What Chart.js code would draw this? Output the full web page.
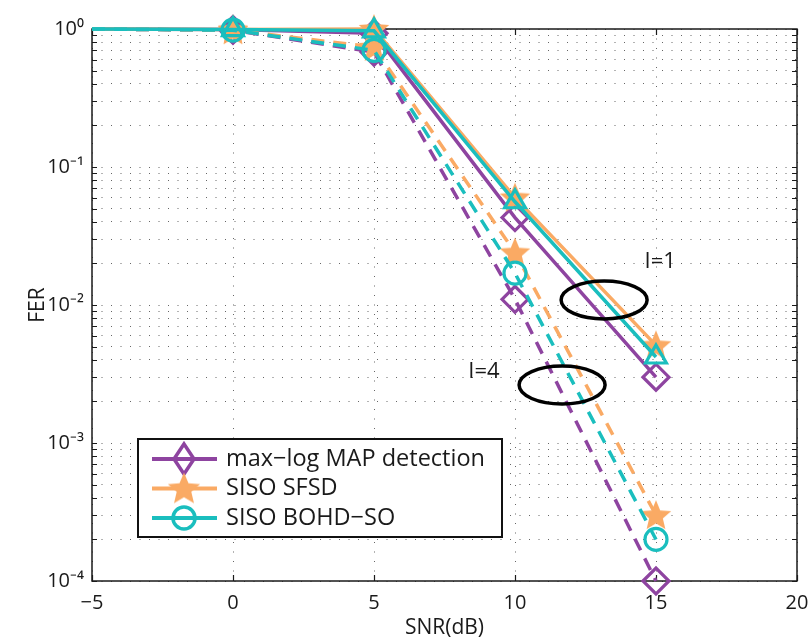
<!DOCTYPE html>
<html>
<head>
<meta charset="utf-8">
<script src="https://cdn.jsdelivr.net/npm/chart.js@4.4.1/dist/chart.umd.min.js"></script>
<style>
  html, body { margin: 0; padding: 0; background: #ffffff; }
  #wrap { width: 808px; height: 642px; }
</style>
</head>
<body>
<div id="wrap"><canvas id="fer" width="808" height="642"></canvas></div>
<script>
// SNR points (dB)
const snr = [-5, 0, 5, 10, 15];
const xTickValues = [-5, 0, 5, 10, 15, 20];
const yDecades = [1e-4, 1e-3, 1e-2, 1e-1, 1];

// Frame error rate, one iteration (I=1, solid)
const maxLogI1 = [1, 0.99, 0.93, 0.043, 0.0030];
const sfsdI1   = [1, 0.99, 1.0, 0.060, 0.0051];
const bohdI1   = [1, 0.99, 0.97, 0.056, 0.0042];
// Frame error rate, four iterations (I=4, dashed)
const maxLogI4 = [1, 0.98, 0.68, 0.011, 0.00010];
const sfsdI4   = [1, 0.98, 0.74, 0.024, 0.00030];
const bohdI4   = [1, 0.98, 0.70, 0.017, 0.00020];

const seriesNames = ['max\u2212log MAP detection', 'SISO SFSD', 'SISO BOHD\u2212SO'];
const iterLabels = [
  { text: 'I=1', x: 15.15, y: 0.0205 },
  { text: 'I=4', x: 8.9, y: 0.00327 }
];
const ellipseCenters = [
  { x: 13.16, y: 0.01087 },
  { x: 11.67, y: 0.00263 }
];

const PURPLE = 'rgb(142,68,160)';
const ORANGE = 'rgb(250,170,100)';
const TEAL = 'rgb(26,190,190)';
const FONT = '"Open Sans", "Liberation Sans", sans-serif';

function starImage(r, color) {
  const size = Math.ceil(2 * r + 2);
  const c = document.createElement('canvas');
  c.width = size; c.height = size;
  const g = c.getContext('2d');
  g.fillStyle = color;
  g.beginPath();
  for (let i = 0; i < 10; i++) {
    const rad = i % 2 ? r * 0.45 : r;
    const a = -Math.PI / 2 + i * Math.PI / 5;
    g.lineTo(size / 2 + rad * Math.cos(a), size / 2 + rad * Math.sin(a) + 1);
  }
  g.closePath();
  g.fill();
  return c;
}
const star = starImage(16, ORANGE);
const legendStar = starImage(17, ORANGE);

const sup = { '-': '\u207B', '0': '\u2070', '1': '\u00B9', '2': '\u00B2', '3': '\u00B3', '4': '\u2074' };
function powLabel(v) {
  const e = Math.round(Math.log10(v));
  return '10' + String(e).split('').map(ch => sup[ch]).join('');
}

function series(label, data, color, style, dashed, order, image) {
  const r = style === 'rectRot' ? 13 : style === 'triangle' ? 12 : 11;
  return {
    label, data, order,
    borderColor: color,
    borderWidth: 3.5,
    borderDash: dashed ? [13, 9] : [],
    pointStyle: image ? star : style,
    pointRadius: data.map((_, i) => (i === 0 ? 0 : r)),
    pointBorderColor: color,
    pointBackgroundColor: 'rgba(0,0,0,0)',
    pointBorderWidth: 3.2,
    tension: 0,
    clip: false
  };
}

// Box around the plot with inward tick marks on all four sides
const framePlugin = {
  id: 'frame',
  beforeDatasetsDraw(chart) {
    const { ctx, chartArea: a, scales: { x, y } } = chart;
    ctx.save();
    ctx.strokeStyle = '#1a1a1a';
    ctx.lineWidth = 1.5;
    ctx.strokeRect(a.left, a.top, a.right - a.left, a.bottom - a.top);
    ctx.lineWidth = 1.2;
    ctx.beginPath();
    x.ticks.forEach(t => {
      const px = Math.round(x.getPixelForValue(t.value)) + 0.5;
      ctx.moveTo(px, a.bottom); ctx.lineTo(px, a.bottom - 6);
      ctx.moveTo(px, a.top); ctx.lineTo(px, a.top + 6);
    });
    y.ticks.forEach(t => {
      const py = Math.round(y.getPixelForValue(t.value)) + 0.5;
      ctx.moveTo(a.left, py); ctx.lineTo(a.left + 5, py);
      ctx.moveTo(a.right, py); ctx.lineTo(a.right - 5, py);
    });
    ctx.stroke();
    ctx.restore();
  }
};

// Iteration groups: ellipses around the curve bundles and their labels
const groupPlugin = {
  id: 'groups',
  afterDatasetsDraw(chart) {
    const { ctx, scales: { x, y } } = chart;
    ctx.save();
    ctx.strokeStyle = '#000';
    ctx.lineWidth = 3.5;
    ellipseCenters.forEach(c => {
      ctx.beginPath();
      ctx.ellipse(x.getPixelForValue(c.x), y.getPixelForValue(c.y), 43, 19, 0, 0, Math.PI * 2);
      ctx.stroke();
    });
    ctx.fillStyle = '#1a1a1a';
    ctx.font = '22px ' + FONT;
    ctx.textAlign = 'center';
    ctx.textBaseline = 'middle';
    iterLabels.forEach(l => ctx.fillText(l.text, x.getPixelForValue(l.x), y.getPixelForValue(l.y)));
    ctx.restore();
  }
};

// Legend box in the lower-left corner of the plot
const legendPlugin = {
  id: 'boxLegend',
  afterDraw(chart) {
    const { ctx, chartArea: a } = chart;
    const left = a.left + 46, bottom = a.bottom - 44;
    const w = 364, h = 98, top = bottom - h;
    ctx.save();
    ctx.fillStyle = '#fff';
    ctx.fillRect(left, top, w, h);
    ctx.strokeStyle = '#111';
    ctx.lineWidth = 2;
    ctx.strokeRect(left, top, w, h);
    const colors = [PURPLE, ORANGE, TEAL];
    seriesNames.forEach((name, i) => {
      const cy = top + 20 + i * 29.5;
      const mx = left + 46;
      ctx.strokeStyle = colors[i];
      ctx.lineWidth = 4;
      ctx.beginPath();
      ctx.moveTo(left + 14, cy); ctx.lineTo(left + 79, cy);
      ctx.stroke();
      ctx.lineWidth = 3.5;
      if (i === 0) {
        ctx.beginPath();
        ctx.moveTo(mx, cy - 15); ctx.lineTo(mx + 10, cy); ctx.lineTo(mx, cy + 15); ctx.lineTo(mx - 10, cy);
        ctx.closePath();
        ctx.stroke();
      } else if (i === 1) {
        ctx.drawImage(legendStar, mx - legendStar.width / 2, cy - legendStar.height / 2);
      } else {
        ctx.beginPath();
        ctx.arc(mx, cy, 11, 0, Math.PI * 2);
        ctx.stroke();
      }
      ctx.fillStyle = '#1a1a1a';
      ctx.font = '23.5px ' + FONT;
      ctx.textAlign = 'left';
      ctx.textBaseline = 'middle';
      ctx.fillText(name, left + 88, cy);
    });
    ctx.restore();
  }
};

const gridDots = { color: 'rgba(0,0,0,0.6)', lineWidth: 1, drawTicks: false };

new Chart(document.getElementById('fer'), {
  type: 'line',
  data: {
    labels: snr,
    datasets: [
      series(seriesNames[0], maxLogI1, PURPLE, 'rectRot', false, 6),
      series(seriesNames[1], sfsdI1, ORANGE, 'star', false, 4, true),
      series(seriesNames[2], bohdI1, TEAL, 'triangle', false, 2),
      series(seriesNames[0] + ' (I=4)', maxLogI4, PURPLE, 'rectRot', true, 5),
      series(seriesNames[1] + ' (I=4)', sfsdI4, ORANGE, 'star', true, 3, true),
      series(seriesNames[2] + ' (I=4)', bohdI4, TEAL, 'circle', true, 1)
    ].map(ds => ({ ...ds, data: ds.data.map((v, i) => ({ x: snr[i], y: v })) }))
  },
  options: {
    responsive: false,
    animation: false,
    events: [],
    layout: { autoPadding: false, padding: { top: 29, right: 0, left: 0, bottom: 0 } },
    plugins: { legend: { display: false }, tooltip: { enabled: false } },
    scales: {
      x: {
        type: 'linear', min: -5, max: 20,
        afterBuildTicks: s => { s.ticks = xTickValues.map(v => ({ value: v })); },
        afterFit: s => { s.height = 61; s.paddingLeft = 0; s.paddingRight = 11; },
        ticks: {
          callback: v => (v < 0 ? '\u2212' + Math.abs(v) : String(v)),
          font: { family: FONT, size: 20 }, color: '#1a1a1a', padding: 10, maxRotation: 0
        },
        grid: gridDots,
        border: { display: false, dash: [1, 8.5] },
        title: { display: true, text: 'SNR(dB)', font: { family: FONT, size: 21 }, color: '#1a1a1a', padding: { top: 0, bottom: 1 } }
      },
      y: {
        type: 'logarithmic', min: 1e-4, max: 1,
        afterBuildTicks: s => {
          const t = [];
          yDecades.slice(0, -1).forEach(d => { for (let k = 1; k <= 9; k++) t.push({ value: d * k }); });
          t.push({ value: 1 });
          s.ticks = t;
        },
        afterFit: s => { s.width = 92; s.paddingTop = 0; s.paddingBottom = 0; },
        ticks: {
          autoSkip: false,
          callback: v => (yDecades.some(d => Math.abs(d - v) < d * 1e-6) ? powLabel(v) : ''),
          font: { family: FONT, size: 20 }, color: '#1a1a1a', padding: 8
        },
        grid: gridDots,
        border: { display: false, dash: [1, 8.5] },
        title: { display: true, text: 'FER', font: { family: FONT, size: 21 }, color: '#1a1a1a', padding: { top: 25, bottom: 0 } }
      }
    }
  },
  plugins: [framePlugin, groupPlugin, legendPlugin]
});
</script>
</body>
</html>
